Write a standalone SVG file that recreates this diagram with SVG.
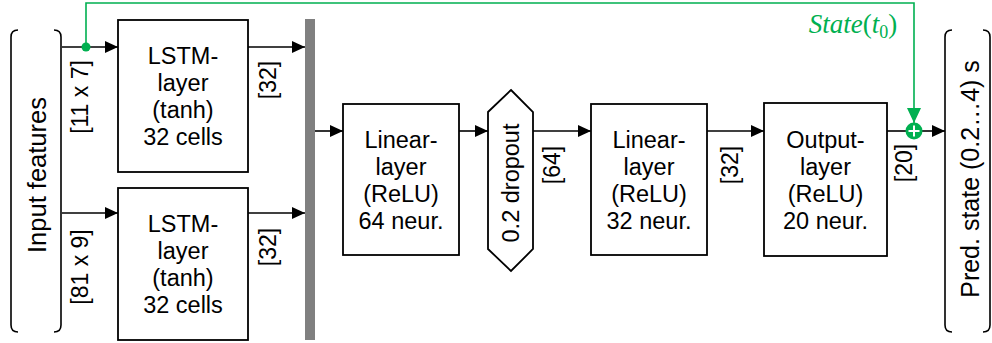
<svg xmlns="http://www.w3.org/2000/svg" width="992" height="343" viewBox="0 0 992 343">
<defs>
<marker id="ah" markerWidth="13" markerHeight="12" refX="13" refY="6" orient="auto" markerUnits="userSpaceOnUse"><path d="M0,0 L13,6 L0,12 Z" fill="#000"/></marker>
<marker id="ahg" markerWidth="15" markerHeight="14" refX="15" refY="7" orient="auto" markerUnits="userSpaceOnUse"><path d="M0,0 L15,7 L0,14 Z" fill="#00B050"/></marker>
</defs>
<style>
.box{fill:#fff;stroke:#000;stroke-width:1.8}
.t{font-family:"Liberation Sans",Arial,sans-serif;font-size:23.5px;fill:#000;text-anchor:middle}
.big{font-family:"Liberation Sans",Arial,sans-serif;font-size:25.5px;fill:#000;text-anchor:middle;dominant-baseline:central}
.lbl{font-family:"Liberation Sans",Arial,sans-serif;font-size:23px;fill:#000;text-anchor:middle;dominant-baseline:central}
.c{fill:none;stroke:#000;stroke-width:1.6}
.g{fill:none;stroke:#00B050;stroke-width:1.6}
.br{fill:none;stroke:#000;stroke-width:1.6}
</style>
<g id="input">
<path class="br" d="M18,30 Q11,30 11,37 L11,325 Q11,332 18,332"/>
<path class="br" d="M54,30 Q61,30 61,37 L61,325 Q61,332 54,332"/>
<text class="big" transform="translate(37,175) rotate(-90)">Input features</text>
</g>
<g id="output">
<path class="br" d="M952,30 Q945,30 945,37 L945,325 Q945,332 952,332"/>
<path class="br" d="M983,30 Q990,30 990,37 L990,325 Q990,332 983,332"/>
<text class="big" style="font-size:25px" transform="translate(970,179) rotate(-90)">Pred. state (0.2…4) s</text>
</g>
<g id="lstm1">
<rect class="box" x="118" y="20" width="130" height="152"/>
<text class="t" x="183" y="64">LSTM-</text>
<text class="t" x="183" y="91">layer</text>
<text class="t" x="183" y="118">(tanh)</text>
<text class="t" x="183" y="145">32 cells</text>
</g>
<g id="lstm2">
<rect class="box" x="118" y="188" width="130" height="152"/>
<text class="t" x="183" y="232">LSTM-</text>
<text class="t" x="183" y="259">layer</text>
<text class="t" x="183" y="286">(tanh)</text>
<text class="t" x="183" y="313">32 cells</text>
</g>
<g id="concat">
<rect x="305" y="19" width="10" height="321" fill="#808080"/>
</g>
<g id="linear1">
<rect class="box" x="343" y="104" width="116" height="151"/>
<text class="t" x="401" y="147.5">Linear-</text>
<text class="t" x="401" y="174.5">layer</text>
<text class="t" x="401" y="201.5">(ReLU)</text>
<text class="t" x="401" y="228.5">64 neur.</text>
</g>
<g id="dropout">
<path class="box" d="M511,90 L533,112 L533,249 L511,271 L488,249 L488,112 Z"/>
<text class="t" dominant-baseline="central" transform="translate(511,183) rotate(-90)">0.2 dropout</text>
</g>
<g id="linear2">
<rect class="box" x="591" y="104" width="116" height="151"/>
<text class="t" x="649" y="147.5">Linear-</text>
<text class="t" x="649" y="174.5">layer</text>
<text class="t" x="649" y="201.5">(ReLU)</text>
<text class="t" x="649" y="228.5">32 neur.</text>
</g>
<g id="outlayer">
<rect class="box" x="764" y="103" width="123" height="153"/>
<text class="t" x="825.5" y="147.5">Output-</text>
<text class="t" x="825.5" y="174.5">layer</text>
<text class="t" x="825.5" y="201.5">(ReLU)</text>
<text class="t" x="825.5" y="228.5">20 neur.</text>
</g>
<g id="connectors">
<line class="c" x1="62" y1="47" x2="118" y2="47" marker-end="url(#ah)"/>
<line class="c" x1="62" y1="213" x2="118" y2="213" marker-end="url(#ah)"/>
<line class="c" x1="248" y1="47" x2="305" y2="47" marker-end="url(#ah)"/>
<line class="c" x1="248" y1="213" x2="305" y2="213" marker-end="url(#ah)"/>
<line class="c" x1="315" y1="131" x2="343" y2="131" marker-end="url(#ah)"/>
<line class="c" x1="459" y1="131" x2="488" y2="131" marker-end="url(#ah)"/>
<line class="c" x1="533" y1="131" x2="591" y2="131" marker-end="url(#ah)"/>
<line class="c" x1="707" y1="131" x2="764" y2="131" marker-end="url(#ah)"/>
<line class="c" x1="887" y1="131" x2="906" y2="131"/>
<line class="c" x1="922" y1="131" x2="945" y2="131" marker-end="url(#ah)"/>
<path class="g" d="M86,47 L86,3 L914,3 L914,123" marker-end="url(#ahg)"/>
<circle cx="86" cy="47" r="4.5" fill="#00B050"/>
<circle cx="914" cy="131" r="8.5" fill="#00B050"/>
<path d="M914,125.5 L914,136.5 M908.5,131 L919.5,131" stroke="#fff" stroke-width="2"/>
<text class="lbl" transform="translate(80,97) rotate(-90)">[11 x 7]</text>
<text class="lbl" transform="translate(80,267) rotate(-90)">[81 x 9]</text>
<text class="lbl" transform="translate(268,80) rotate(-90)">[32]</text>
<text class="lbl" transform="translate(268,247) rotate(-90)">[32]</text>
<text class="lbl" transform="translate(552,165) rotate(-90)">[64]</text>
<text class="lbl" transform="translate(730,165) rotate(-90)">[32]</text>
<text class="lbl" transform="translate(904,163) rotate(-90)">[20]</text>
<text x="853" y="33" text-anchor="middle" font-family="'Liberation Serif','DejaVu Serif',serif" font-size="27" fill="#00B050"><tspan font-style="italic">State</tspan>(<tspan font-style="italic">t</tspan><tspan font-size="18" dy="5">0</tspan><tspan dy="-5">)</tspan></text>
</g>
</svg>
